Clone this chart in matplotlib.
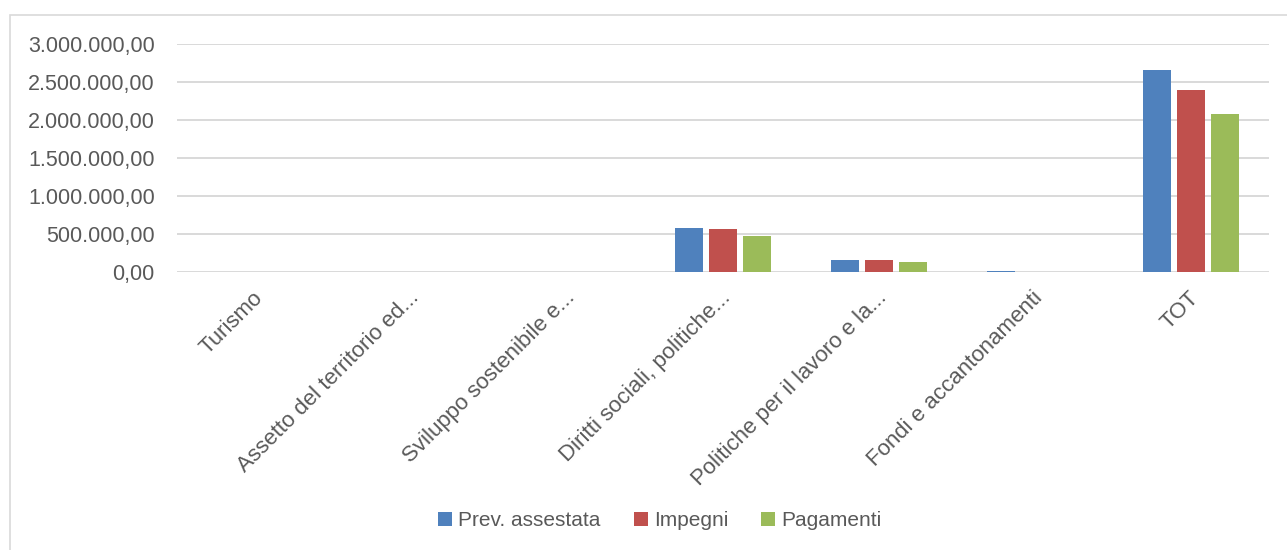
import numpy as np
import matplotlib.pyplot as plt
from matplotlib.patches import Rectangle
from matplotlib.ticker import FuncFormatter

# --- data ----------------------------------------------------------------
categories = [
    "Turismo",
    "Assetto del territorio ed...",
    "Sviluppo sostenibile e...",
    "Diritti sociali, politiche...",
    "Politiche per il lavoro e la...",
    "Fondi e accantonamenti",
    "TOT",
]
prev_assestata = [0, 0, 0, 583000, 159000, 18000, 2658000]
impegni = [0, 0, 0, 566000, 154000, 0, 2395000]
pagamenti = [0, 0, 0, 477000, 133000, 0, 2084000]
series_names = ["Prev. assestata", "Impegni", "Pagamenti"]
yticks = [0, 500000, 1000000, 1500000, 2000000, 2500000, 3000000]

BLUE, RED, GREEN = "#4F81BD", "#C0504D", "#9BBB59"
GRID = "#D9D9D9"
TXT = "#595959"
FONT = "Liberation Sans"

plt.rcParams["font.family"] = FONT

W, H = 1287, 550
fig = plt.figure(figsize=(W / 100, H / 100), dpi=100)

# chart frame (extends past the right edge like the screenshot)
fig.patches.append(Rectangle((10 / W, -0.1), 1.2, 1 - 15 / H + 0.1,
                             transform=fig.transFigure, fill=False,
                             edgecolor=GRID, linewidth=1.2))

ax = fig.add_axes([177 / W, 1 - 272 / H, (1269 - 177) / W, (272 - 44) / H])

x = np.arange(len(categories))
bw = 0.18
off = 0.218
for i, (vals, col, name) in enumerate(zip([prev_assestata, impegni, pagamenti],
                                          [BLUE, RED, GREEN], series_names)):
    ax.bar(x + (i - 1) * off, vals, width=bw, color=col, label=name, zorder=3)

ax.set_xlim(-0.5, len(categories) - 0.5)
ax.set_ylim(0, 3000000)
ax.set_yticks(yticks)


def it_fmt(v, _):
    s = f"{v:,.2f}"
    return s.replace(",", "X").replace(".", ",").replace("X", ".")


ax.yaxis.set_major_formatter(FuncFormatter(it_fmt))
ax.tick_params(axis="y", length=0, pad=16, labelsize=15.5, labelcolor=TXT)
ax.grid(axis="y", color=GRID, linewidth=1.4, zorder=0)
for s in ax.spines.values():
    s.set_visible(False)

ax.set_xticks(x)
ax.set_xticklabels([])
ax.tick_params(axis="x", length=0)
for xi, lab in zip(x, categories):
    ax.annotate(lab, xy=(xi, 0), xycoords=("data", "axes fraction"),
                xytext=(-2, -11), textcoords="offset points",
                rotation=45, ha="right", va="top", rotation_mode="anchor",
                fontsize=16, color=TXT)

fig.legend(loc="center", bbox_to_anchor=(660 / W, 1 - 521 / H), ncol=3,
           frameon=False, fontsize=15, handlelength=0.65, handleheight=0.65,
           handletextpad=0.3, columnspacing=1.6, labelcolor=TXT)

fig.savefig("out.png", dpi=100)
